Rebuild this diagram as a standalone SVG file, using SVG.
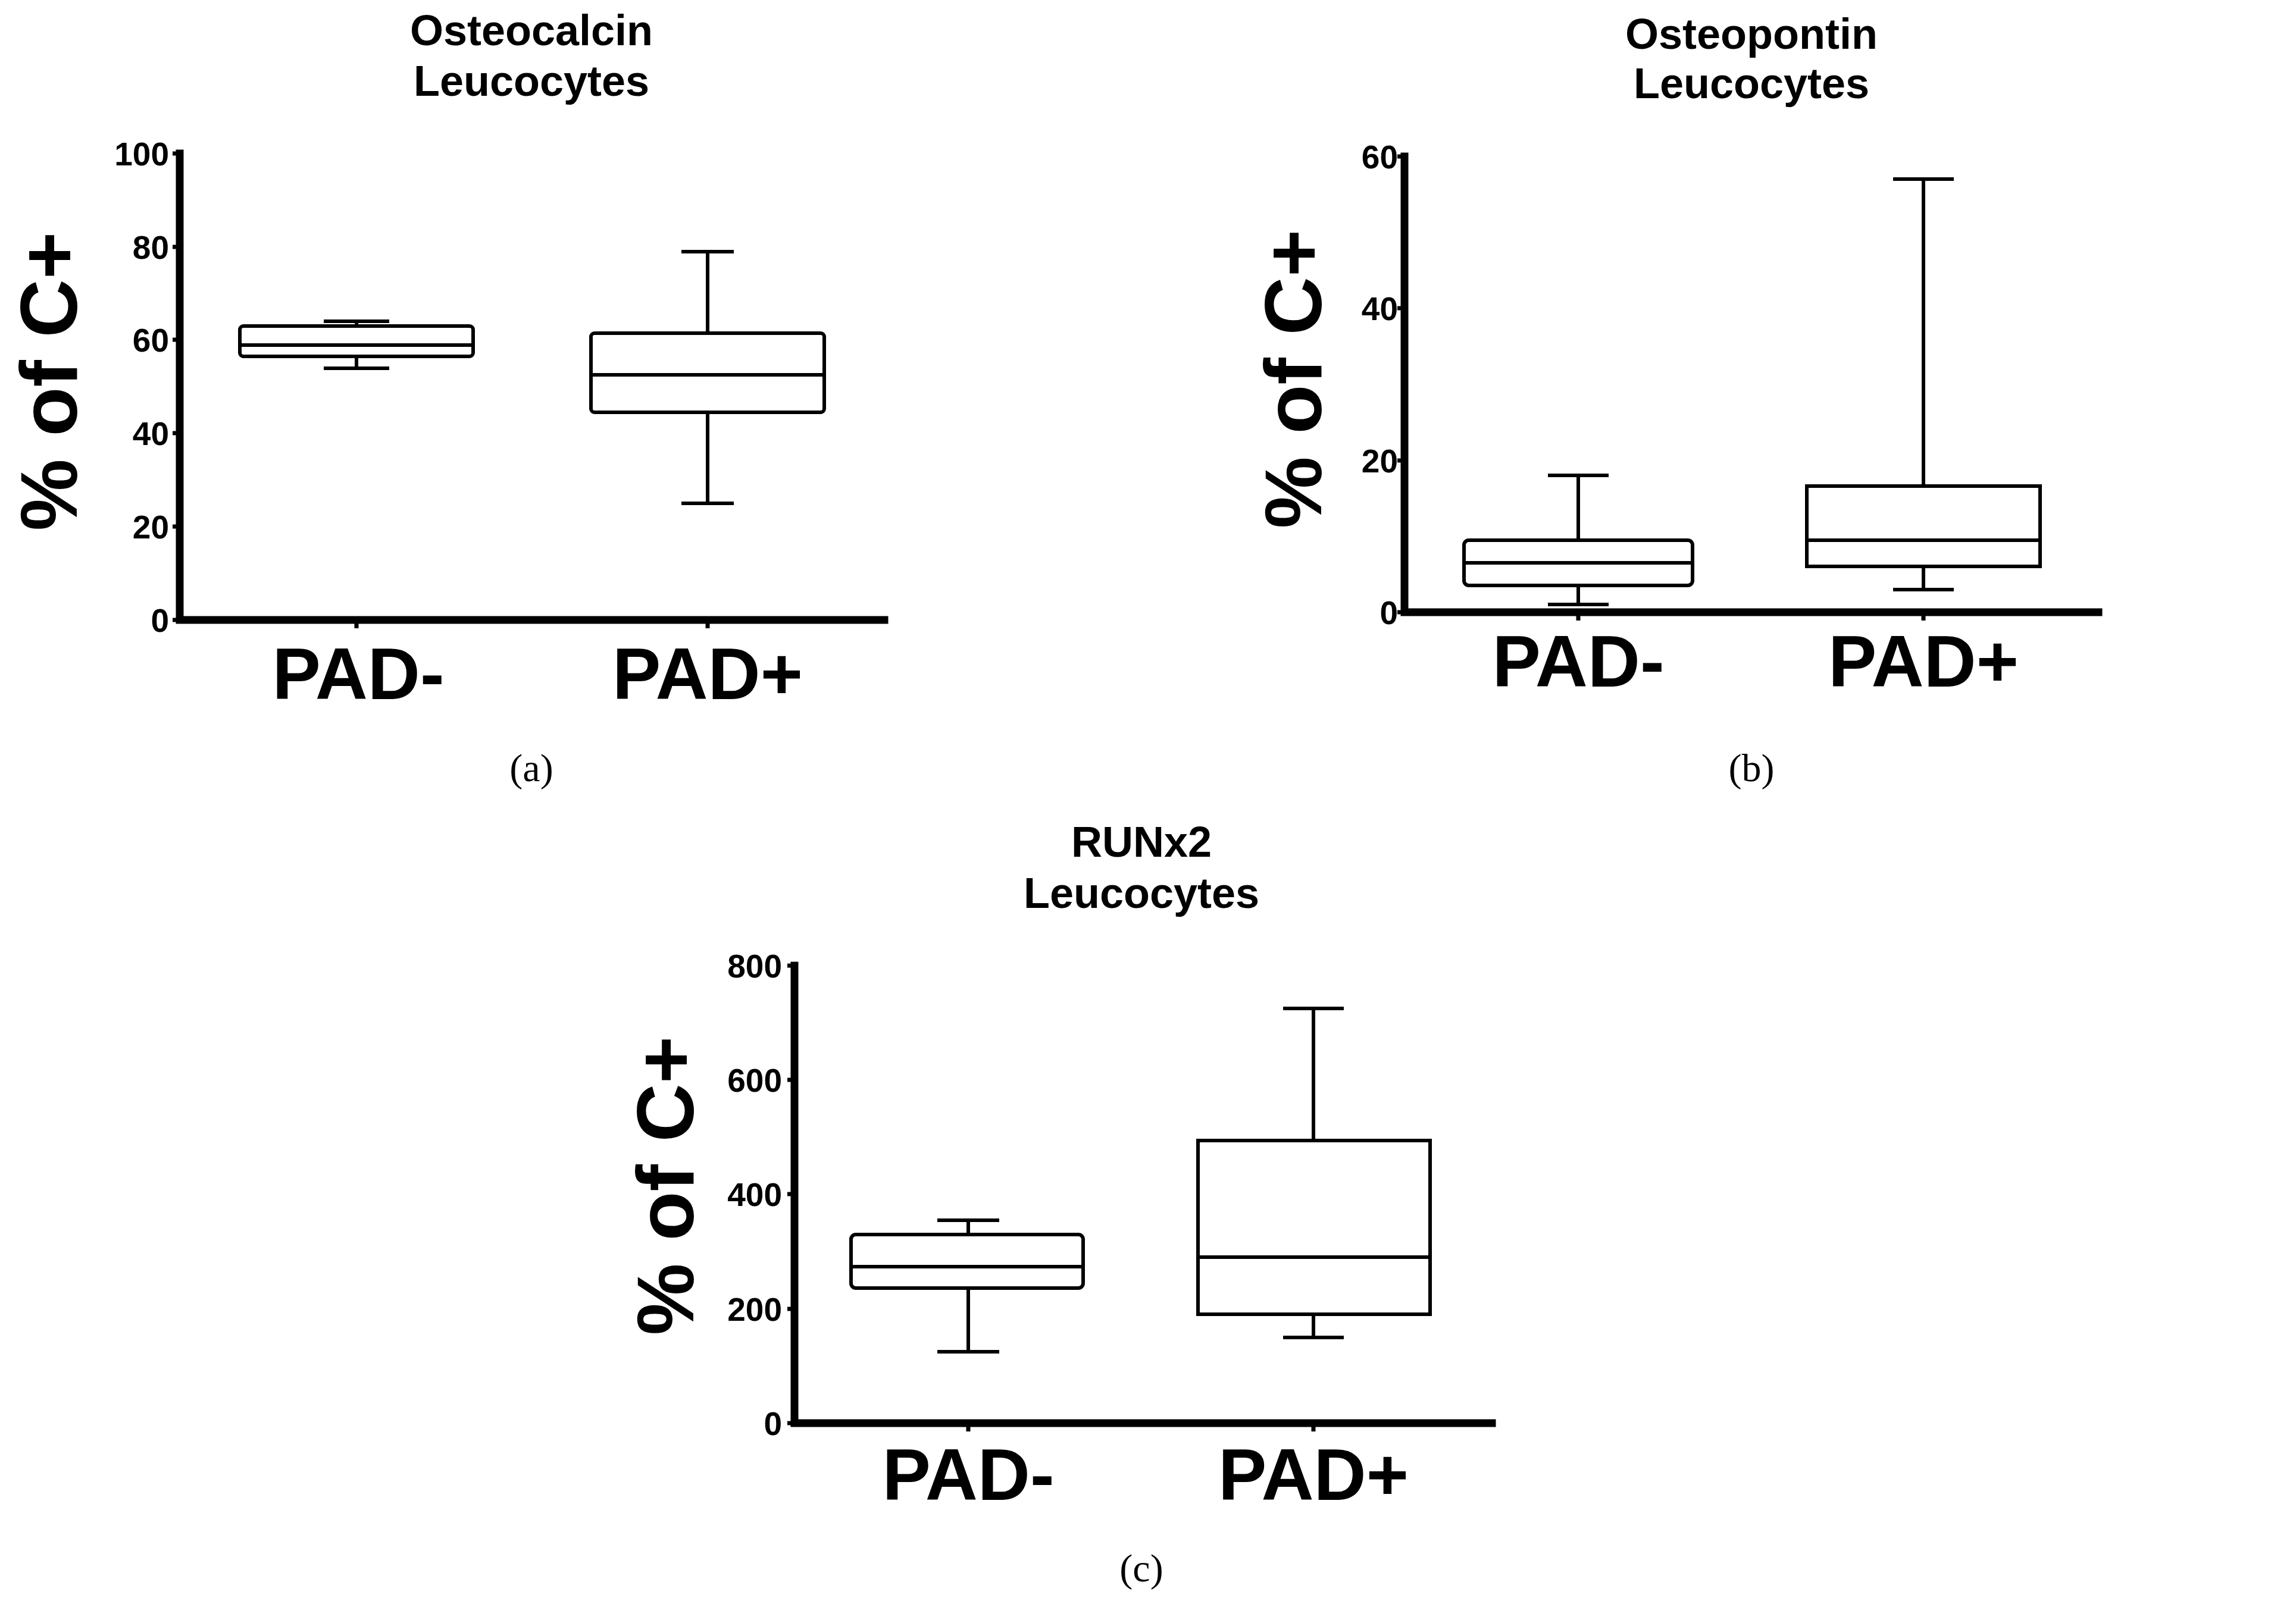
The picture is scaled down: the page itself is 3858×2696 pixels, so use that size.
<svg xmlns="http://www.w3.org/2000/svg" width="3858" height="2696" viewBox="0 0 3858 2696">
<style>
text{font-family:"Liberation Sans",Arial,sans-serif;font-weight:bold;fill:#000}
.t{font-size:72px;text-anchor:middle}
.k{font-size:55px;text-anchor:end}
.c{font-size:122px;text-anchor:middle}
.y{font-size:136px;text-anchor:middle}
.p{font-family:"Liberation Serif","Times New Roman",serif;font-weight:normal;font-size:66px;text-anchor:middle}
.ax{stroke:#000;stroke-width:13;fill:none;stroke-linecap:square}
.tk{stroke:#000;stroke-width:7;fill:none}
.bx{stroke:#000;stroke-width:6;fill:#fff}
.ln{stroke:#000;stroke-width:6;fill:none}
</style>
<rect width="3858" height="2696" fill="#fff"/>

<g id="panel-a">
<text class="t" x="893" y="76">Osteocalcin</text>
<text class="t" x="893" y="161">Leucocytes</text>
<text class="y" transform="translate(129,641) rotate(-90)">% of C+</text>
<path class="ax" d="M302 258 V1042 H1486"/>
<path class="tk" d="M290 258H302M290 415H302M290 571H302M290 728H302M290 885H302M290 1042H302M599 1042V1056M1189 1042V1056"/>
<g class="k"><text x="284" y="278">100</text><text x="284" y="435">80</text><text x="284" y="591">60</text><text x="284" y="748">40</text><text x="284" y="905">20</text><text x="284" y="1062">0</text></g>
<path class="ln" d="M599 540V548M544 540H654M599 599V619M544 619H654"/>
<rect class="bx" x="403" y="548" width="392" height="51" rx="6"/>
<path class="ln" d="M403 580H795"/>
<path class="ln" d="M1189 423V560M1145 423H1233M1189 693V846M1145 846H1233"/>
<rect class="bx" x="993" y="560" width="392" height="133" rx="6"/>
<path class="ln" d="M993 630H1385"/>
<text class="c" x="602" y="1175">PAD-</text>
<text class="c" x="1189" y="1175">PAD+</text>
<text class="p" x="893" y="1313">(a)</text>
</g>

<g id="panel-b">
<text class="t" x="2943" y="82">Osteopontin</text>
<text class="t" x="2943" y="165">Leucocytes</text>
<text class="y" transform="translate(2220,637) rotate(-90)">% of C+</text>
<path class="ax" d="M2360 263 V1029 H3526"/>
<path class="tk" d="M2348 263H2360M2348 518H2360M2348 774H2360M2348 1029H2360M2652 1029V1043M3232 1029V1043"/>
<g class="k"><text x="2349" y="283">60</text><text x="2349" y="538">40</text><text x="2349" y="794">20</text><text x="2349" y="1049">0</text></g>
<path class="ln" d="M2652 799V908M2601 799H2703M2652 984V1016M2601 1016H2703"/>
<rect class="bx" x="2460" y="908" width="384" height="76" rx="8"/>
<path class="ln" d="M2460 946H2844"/>
<path class="ln" d="M3232 301V817M3181 301H3283M3232 952V991M3181 991H3283"/>
<rect class="bx" x="3036" y="817" width="392" height="135"/>
<path class="ln" d="M3036 908H3428"/>
<text class="c" x="2652" y="1154">PAD-</text>
<text class="c" x="3232" y="1154">PAD+</text>
<text class="p" x="2943" y="1313">(b)</text>
</g>

<g id="panel-c">
<text class="t" x="1918" y="1440">RUNx2</text>
<text class="t" x="1918" y="1526">Leucocytes</text>
<text class="y" transform="translate(1165,1993) rotate(-90)">% of C+</text>
<path class="ax" d="M1335 1623 V2392 H2507"/>
<path class="tk" d="M1323 1623H1335M1323 1815H1335M1323 2007H1335M1323 2200H1335M1323 2392H1335M1627 2392V2406M2207 2392V2406"/>
<g class="k"><text x="1314" y="1643">800</text><text x="1314" y="1835">600</text><text x="1314" y="2027">400</text><text x="1314" y="2220">200</text><text x="1314" y="2412">0</text></g>
<path class="ln" d="M1627 2051V2075M1575 2051H1679M1627 2165V2272M1575 2272H1679"/>
<rect class="bx" x="1430" y="2075" width="390" height="90" rx="8"/>
<path class="ln" d="M1430 2129H1820"/>
<path class="ln" d="M2207 1695V1917M2156 1695H2258M2207 2209V2248M2156 2248H2258"/>
<rect class="bx" x="2013" y="1917" width="390" height="292"/>
<path class="ln" d="M2013 2113H2403"/>
<text class="c" x="1627" y="2521">PAD-</text>
<text class="c" x="2207" y="2521">PAD+</text>
<text class="p" x="1918" y="2658">(c)</text>
</g>
</svg>
